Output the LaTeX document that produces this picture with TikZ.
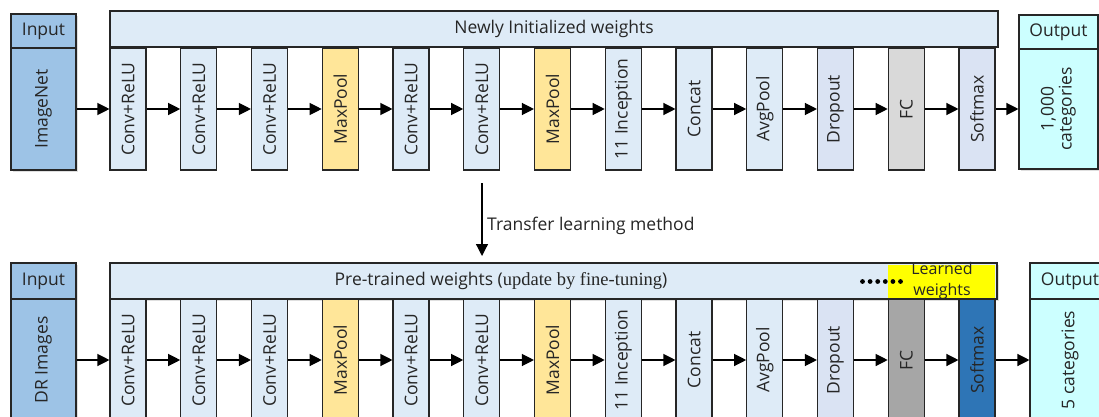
\documentclass[tikz,border=0pt]{standalone}
\usepackage{fontspec}
\setmainfont{Open Sans}
\newfontfamily\serifpart{Liberation Serif}
\usetikzlibrary{arrows.meta,shadows}
\definecolor{inblue}{HTML}{9DC3E6}
\definecolor{lblue}{HTML}{DEEBF7}
\definecolor{lav}{HTML}{DAE3F3}
\definecolor{maxp}{HTML}{FFE699}
\definecolor{fcg}{HTML}{D9D9D9}
\definecolor{fcd}{HTML}{A6A6A6}
\definecolor{smx}{HTML}{2E75B6}
\definecolor{outc}{HTML}{CCFFFF}
\definecolor{edge}{HTML}{262626}
\definecolor{lyellow}{HTML}{FFFF00}
\begin{document}
\begin{tikzpicture}[x=1pt,y=-1pt,
  font=\fontsize{17.5}{20}\selectfont,
  box/.style={draw=edge, line width=1.1pt, inner sep=0pt, text=edge, anchor=center},
  layer/.style={box, minimum width=36pt, minimum height=122pt},
  bar/.style={box, line width=1.4pt, fill=lblue, minimum height=36pt},
  inbox/.style={box, fill=inblue, minimum width=65pt, shad},
  outbox/.style={box, fill=outc, minimum width=80pt, shad},
  arr/.style={-{Triangle[length=12pt,width=12pt]}, line width=1.2pt, black},
  shad/.style={drop shadow={opacity=0.25, shadow xshift=1.5pt, shadow yshift=-2pt}}
]
\clip (0,0) rectangle (1099,417);
\useasboundingbox (0,0) rectangle (1099,417);
\fill[white] (0,0) rectangle (1099,417);

% ---------- top row ----------
\node[bar, minimum width=888pt] (tbar) at (554,29) {Newly Initialized weights};
\node[inbox, minimum height=34pt] (tinh) at (43.5,31) {Input};
\node[inbox, minimum height=122pt] (tin) at (43.5,109) {\rotatebox{90}{ImageNet}};
\foreach \i/\lab/\col in {0/Conv+ReLU/lblue, 1/Conv+ReLU/lblue, 2/Conv+ReLU/lblue,
  3/MaxPool/maxp, 4/Conv+ReLU/lblue, 5/Conv+ReLU/lblue, 6/MaxPool/maxp,
  7/11 Inception/lblue, 8/Concat/lblue, 9/AvgPool/lblue, 10/Dropout/lav,
  11/FC/fcg, 12/Softmax/lav}
  \node[layer, fill=\col] (t\i) at ({128+70.75*\i},109) {\rotatebox{90}{\lab}};
\node[outbox, minimum width=79pt, minimum height=34pt] (touth) at (1058.5,32) {Output};
\node[outbox, minimum width=79pt, minimum height=120pt] (tout) at (1058.5,109)
  {\rotatebox{90}{\begin{tabular}{@{}c@{}}1,000\\[-2pt]categories\end{tabular}}};
\draw[arr] (tin) -- (t0);
\foreach \i in {0,...,11}{
  \pgfmathtruncatemacro{\j}{\i+1}
  \draw[arr] (t\i) -- (t\j);
}
\draw[arr] (t12) -- (tout);

% ---------- transfer arrow ----------
\coordinate (ts) at (482,183);
\coordinate (te) at (482,256);
\draw[arr] (ts) -- (te);
\node[anchor=west, inner sep=0pt, text=edge] (tl) at (487,226) {Transfer learning method};

% ---------- bottom row ----------
\node[bar, minimum width=887pt, shad] (bbar) at (553.5,281) {};
\fill[lyellow] (888,264.5) rectangle (995,297.5);
\node[inner sep=0pt, text=edge] (bbart) at (501,281)
  {Pre-trained weights ({\serifpart\fontsize{18.5}{20}\selectfont update by fine-tuning})};
\node[inner sep=0pt, text=edge, align=center, font=\fontsize{16}{21}\selectfont] (lw) at (942,281)
  {Learned\\weights};
\foreach \k in {0,...,5}
  \fill[black] ({862.5+7.6*\k},281.5) circle (2.4);
\node[inbox, minimum height=36pt] (binh) at (43.5,281) {Input};
\node[inbox, minimum height=122pt] (bin) at (43.5,360) {\rotatebox{90}{DR Images}};
\foreach \i/\lab/\col in {0/Conv+ReLU/lblue, 1/Conv+ReLU/lblue, 2/Conv+ReLU/lblue,
  3/MaxPool/maxp, 4/Conv+ReLU/lblue, 5/Conv+ReLU/lblue, 6/MaxPool/maxp,
  7/11 Inception/lblue, 8/Concat/lblue, 9/AvgPool/lblue, 10/Dropout/lav,
  11/FC/fcd, 12/Softmax/smx}
  \node[layer, fill=\col] (b\i) at ({128+70.75*\i},360) {\rotatebox{90}{\lab}};
\node[outbox, minimum height=36pt] (bouth) at (1070,281) {Output};
\node[outbox, minimum height=122pt] (bout) at (1070,360) {\rotatebox{90}{5 categories}};
\draw[arr] (bin) -- (b0);
\foreach \i in {0,...,11}{
  \pgfmathtruncatemacro{\j}{\i+1}
  \draw[arr] (b\i) -- (b\j);
}
\draw[arr] (b12) -- (bout);
\end{tikzpicture}
\end{document}
